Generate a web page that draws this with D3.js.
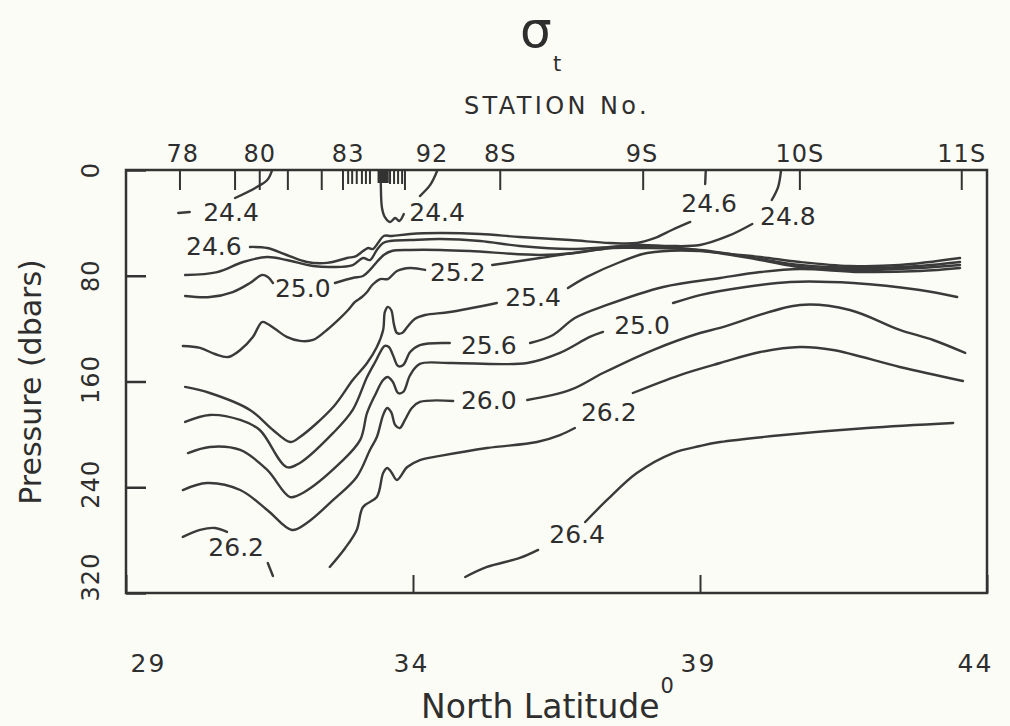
<!DOCTYPE html>
<html>
<head>
<meta charset="utf-8">
<script src="https://cdn.jsdelivr.net/npm/d3@7"></script>
<style>
  html, body { margin: 0; padding: 0; background: #fcfcf6; }
  svg { display: block; }
  text { font-family: "DejaVu Sans", "Liberation Sans", sans-serif; fill: #2e2e2e; }
</style>
</head>
<body>
<svg id="chart" width="1010" height="726"></svg>
<script>
// ---- Axis values ----
const latTicks = [29, 34, 39, 44];
const pressureTicks = [0, 80, 160, 240, 320];

// ---- Station positions (latitude) along the section ----
const stationMajorLat = [29.94, 30.90, 31.33, 31.82, 32.41, 32.78, 33.86, 35.52, 38.01, 40.74, 43.56];
const stationMinorLat = [32.87, 32.94, 33.02, 33.11, 33.18, 33.25, 33.60, 33.67, 33.74, 33.81];
const stationClusterLat = [33.41, 33.44, 33.47, 33.50, 33.53, 33.55];
const stationNames = ["78", "80", "83", "92", "8S", "9S", "10S", "11S"];
const stationNameLat = [29.99, 31.33, 32.87, 34.33, 35.52, 37.99, 40.74, 43.56];

// ---- Isopycnals: [latitude, pressure (dbar)] per drawn segment ----
const sigma244 = [
  [[29.91, 32.5], [30.11, 31.8]],
  [[30.90, 21.2], [31.28, 12.9], [31.46, 7.6], [31.54, 0.8]],
  [[33.44, 0.8], [33.44, 12.1], [33.46, 28.7], [33.51, 35.6], [33.60, 39.3], [33.69, 36.3], [33.76, 38.6], [33.84, 33.3]],
  [[34.12, 19.7], [34.30, 11.3], [34.42, 0.8]]
];
const sigma246 = [
  [[31.16, 58.2], [31.46, 59.0], [31.80, 64.3], [32.15, 69.6], [32.50, 70.3], [32.85, 66.6], [33.01, 65.1], [33.13, 61.3], [33.22, 59.0], [33.30, 59.8], [33.39, 55.2], [33.49, 49.9], [33.63, 49.9], [33.95, 48.4], [34.47, 47.7], [35.17, 48.4], [35.86, 50.7], [36.74, 53.0], [37.43, 55.2], [37.90, 55.2], [38.22, 51.4], [38.51, 45.4], [38.83, 39.3]],
  [[39.09, 10.6], [39.10, 0.8]]
];
const sigma248 = [
  [[30.03, 79.4], [30.59, 77.2], [31.04, 69.6], [31.46, 65.8], [31.80, 68.1], [32.26, 72.6], [32.61, 73.4], [32.95, 71.9], [33.13, 66.6], [33.25, 68.1], [33.37, 60.5], [33.48, 55.2], [33.60, 53.7], [33.95, 53.0], [34.47, 52.2], [35.17, 53.7], [35.86, 57.5], [36.74, 59.8], [37.43, 58.2], [37.95, 56.7], [38.48, 57.5], [39.00, 56.7], [39.49, 49.9], [39.91, 40.8]],
  [[40.25, 22.7], [40.36, 12.9], [40.41, 0.8]]
];
const sigma250 = [
  [[30.03, 95.3], [30.46, 96.1], [30.86, 92.3], [31.16, 85.5], [31.37, 79.4], [31.47, 80.9], [31.56, 85.5]],
  [[32.64, 85.5], [32.95, 81.7], [33.13, 80.2], [33.25, 75.6], [33.37, 69.6], [33.49, 64.3], [33.63, 61.3], [33.95, 60.5], [34.47, 60.5], [34.99, 61.3], [36.21, 64.3], [36.82, 62.8], [37.43, 59.0], [37.95, 57.5], [38.65, 59.0], [39.35, 62.8], [40.05, 65.8], [40.74, 69.6], [41.61, 72.6], [42.48, 71.9], [43.53, 66.6]]
];
const sigma252 = [
  [[29.99, 133.1], [30.29, 134.6], [30.55, 139.2], [30.78, 141.5], [30.99, 136.2], [31.21, 126.3], [31.37, 115.0], [31.47, 116.5], [31.60, 120.3], [31.80, 126.3], [32.03, 129.3], [32.26, 128.6], [32.50, 121.0], [32.73, 112.0], [32.87, 105.9], [32.99, 99.8], [33.11, 96.1], [33.20, 92.3], [33.29, 87.0], [33.43, 82.5], [33.56, 82.5], [33.72, 76.4], [33.95, 74.1], [34.21, 75.6]],
  [[35.38, 71.9], [36.21, 66.6], [36.91, 62.0], [37.48, 59.0], [37.95, 59.0], [39.00, 60.5], [40.05, 67.3], [40.74, 71.9], [41.79, 74.1], [42.83, 72.6], [43.53, 69.6]]
];
const sigma254 = [
  [[30.03, 164.1], [30.46, 168.7], [31.16, 181.5], [31.56, 196.7], [31.86, 205.8], [32.03, 202.0], [32.61, 179.3], [32.95, 158.9], [33.20, 146.0], [33.37, 133.9], [33.48, 121.0], [33.51, 107.4], [33.56, 103.6], [33.62, 105.9], [33.67, 117.2], [33.72, 123.3], [33.81, 123.3], [33.90, 118.8], [34.03, 112.7], [34.21, 109.7], [34.64, 107.4], [35.46, 100.6]],
  [[36.70, 89.3], [37.03, 80.9], [37.61, 69.6], [38.08, 62.8], [39.00, 61.3], [40.05, 68.1], [40.74, 73.4], [41.79, 75.6], [42.83, 74.1], [43.53, 71.9]]
];
const sigma256 = [
  [[30.03, 190.6], [30.46, 185.3], [30.99, 189.1], [31.33, 196.7], [31.80, 224.7], [32.03, 221.6], [32.61, 198.9], [32.95, 181.5], [33.20, 156.6], [33.36, 143.7], [33.43, 137.7], [33.51, 133.1], [33.58, 133.9], [33.65, 139.9], [33.74, 148.3], [33.83, 147.5], [33.95, 137.7], [34.12, 132.4], [34.64, 130.9]],
  [[36.04, 130.9], [36.44, 124.8], [36.82, 112.0], [37.38, 102.1], [38.36, 88.5], [39.35, 81.7], [40.05, 77.2], [40.74, 74.9], [41.79, 77.2], [42.83, 76.4], [43.53, 74.1]]
];
const sigma258 = [
  [[30.08, 214.1], [30.46, 209.5], [30.99, 211.8], [31.46, 226.9], [31.86, 247.4], [32.08, 244.3], [32.73, 221.6], [33.08, 204.2], [33.20, 183.8], [33.34, 170.2], [33.48, 158.9], [33.56, 156.6], [33.65, 160.4], [33.74, 168.7], [33.83, 167.9], [33.95, 155.1], [34.12, 146.7], [34.64, 146.0], [35.99, 146.0], [36.56, 138.4], [37.08, 126.3], [37.31, 122.5]],
  [[38.53, 100.6], [39.00, 94.6], [39.35, 91.5], [40.57, 84.7], [41.67, 85.5], [42.83, 90.8], [43.48, 96.1]]
];
const sigma260 = [
  [[29.99, 242.1], [30.41, 236.8], [30.99, 242.1], [31.46, 257.2], [31.89, 272.3], [32.15, 267.0], [32.61, 249.6], [33.02, 232.2], [33.25, 211.8], [33.37, 202.0], [33.48, 185.3], [33.55, 180.0], [33.62, 183.1], [33.69, 192.9], [33.77, 195.2], [33.86, 189.1], [33.98, 180.0], [34.12, 175.5], [34.70, 174.7]],
  [[35.99, 174.0], [36.74, 166.4], [37.31, 153.6], [38.18, 136.2], [39.00, 123.3], [39.35, 119.5], [40.74, 102.1], [41.61, 105.9], [42.48, 121.0], [43.06, 128.6], [43.62, 138.4]]
];
const sigma262 = [
  [[29.99, 277.6], [30.29, 272.3], [30.55, 270.8], [30.76, 273.8]],
  [[31.47, 297.3], [31.56, 307.1]],
  [[32.55, 300.3], [32.82, 285.9], [33.02, 272.3], [33.13, 254.9], [33.37, 247.4], [33.48, 229.2], [33.55, 225.4], [33.62, 228.4], [33.72, 234.5], [33.90, 224.7], [34.12, 219.4], [34.47, 216.3], [35.29, 210.3], [36.16, 205.8], [36.56, 200.5], [36.82, 195.2]],
  [[37.83, 168.7], [38.65, 155.1], [39.35, 146.0], [40.05, 137.7], [40.74, 133.9], [41.32, 136.2], [42.48, 149.0], [43.58, 159.6]]
];
const sigma264 = [
  [[34.91, 307.9], [35.29, 300.3], [35.86, 293.5], [36.18, 287.4]],
  [[37.00, 266.3], [37.38, 249.6], [37.90, 229.2], [38.53, 214.1], [39.00, 208.8], [39.35, 205.8], [40.45, 200.5], [41.91, 195.2], [43.41, 191.4]]
];

// ---- Contour labels ----
const labelText = ["24.4", "24.6", "25.0", "24.4", "25.2", "25.4", "25.6", "26.0", "24.6", "24.8", "25.0", "26.2", "26.4", "26.2"];
const labelLat  = [30.83, 30.53, 32.08, 34.42, 34.78, 36.09, 35.32, 35.32, 39.16, 40.53, 37.99, 37.41, 36.86, 30.92];
const labelP    = [32.5, 57.5, 90.0, 31.8, 77.9, 96.1, 132.4, 174.0, 25.0, 34.8, 118.0, 183.8, 276.1, 285.9];

// ---- Layout ----
const ink = "#333";
const svg = d3.select("#chart");
svg.append("rect").attr("width", 1010).attr("height", 726).attr("fill", "#fcfcf6");

const x = d3.scaleLinear().domain([29, 44]).range([126, 987]);
const y = d3.scaleLinear().domain([0, 320]).range([170, 593]);

// Isopycnal lines
const line = d3.line()
  .x(d => x(d[0]))
  .y(d => y(d[1]))
  .curve(d3.curveCatmullRom.alpha(0.5));

const isopycnals = [sigma244, sigma246, sigma248, sigma250, sigma252, sigma254,
                    sigma256, sigma258, sigma260, sigma262, sigma264];
const gLines = svg.append("g")
  .attr("fill", "none")
  .attr("stroke", "#3a3a3a")
  .attr("stroke-width", 2.4)
  .attr("stroke-linecap", "round")
  .attr("stroke-linejoin", "round");
isopycnals.forEach(segments => {
  gLines.selectAll(null)
    .data(segments)
    .enter().append("path")
    .attr("d", line);
});

// Contour labels
svg.append("g").selectAll("text")
  .data(labelText)
  .enter().append("text")
  .attr("x", (d, i) => x(labelLat[i]))
  .attr("y", (d, i) => y(labelP[i]))
  .attr("text-anchor", "middle")
  .attr("dominant-baseline", "central")
  .attr("font-size", 25)
  .text(d => d);

// Frame
svg.append("rect")
  .attr("x", x(29)).attr("y", y(0))
  .attr("width", x(44) - x(29)).attr("height", y(320) - y(0))
  .attr("fill", "none").attr("stroke", ink).attr("stroke-width", 2.5);

// Bottom axis (ticks point inward)
const gB = svg.append("g")
  .attr("transform", `translate(0,${y(320)})`)
  .call(d3.axisBottom(x).tickValues(latTicks).tickSizeInner(-18).tickSizeOuter(0).tickPadding(61));
gB.select(".domain").remove();
gB.selectAll(".tick line").attr("stroke", ink).attr("stroke-width", 2);
const bottomNudge = { 29: 22, 34: -2, 39: -2, 44: -12 };
gB.selectAll(".tick text")
  .attr("font-size", 25)
  .attr("font-family", "DejaVu Sans, sans-serif")
  .attr("fill", "#2e2e2e")
  .attr("letter-spacing", 2)
  .attr("dx", d => bottomNudge[d]);

// Left axis (ticks point inward, rotated labels)
const gL = svg.append("g")
  .attr("transform", `translate(${x(29)},0)`)
  .call(d3.axisLeft(y).tickValues(pressureTicks).tickSizeInner(-20).tickSizeOuter(0).tickFormat(""));
gL.select(".domain").remove();
gL.selectAll(".tick line").attr("stroke", ink).attr("stroke-width", 2.5);
const leftNudge = { 0: 0, 80: 0, 160: -2, 240: -3, 320: -16 };
svg.append("g").selectAll("text")
  .data(pressureTicks)
  .enter().append("text")
  .attr("transform", d => `translate(99,${y(d) + leftNudge[d]}) rotate(-90)`)
  .attr("text-anchor", "middle")
  .attr("font-size", 24)
  .attr("letter-spacing", 1)
  .text(d => d);

// Station ticks along the top edge
const gT = svg.append("g").attr("stroke", ink);
gT.selectAll(".major")
  .data(stationMajorLat)
  .enter().append("line")
  .attr("x1", d => x(d)).attr("x2", d => x(d))
  .attr("y1", y(0)).attr("y2", y(0) + 20)
  .attr("stroke-width", 2);
gT.selectAll(".minor")
  .data(stationMinorLat)
  .enter().append("line")
  .attr("x1", d => x(d)).attr("x2", d => x(d))
  .attr("y1", y(0)).attr("y2", y(0) + 14)
  .attr("stroke-width", 2);
gT.selectAll(".cluster")
  .data(stationClusterLat)
  .enter().append("line")
  .attr("x1", d => x(d)).attr("x2", d => x(d))
  .attr("y1", y(0)).attr("y2", y(0) + 13)
  .attr("stroke-width", 3.2);

svg.append("g").selectAll("text")
  .data(stationNames)
  .enter().append("text")
  .attr("x", (d, i) => x(stationNameLat[i]))
  .attr("y", 162)
  .attr("text-anchor", "middle")
  .attr("font-size", 24)
  .attr("letter-spacing", 1)
  .text(d => d);

// Titles
svg.append("text")
  .attr("x", 557).attr("y", 114)
  .attr("text-anchor", "middle")
  .attr("font-size", 24)
  .attr("letter-spacing", 3.4)
  .text("STATION No.");

// sigma-t symbol: the subscript sits just clear of the sigma glyph
svg.append("text").attr("x", 520).attr("y", 47).attr("font-size", 50).text("σ");
svg.append("text").attr("x", 553).attr("y", 71).attr("font-size", 21).text("t");

const xl = svg.append("text")
  .attr("x", 421).attr("y", 718)
  .attr("font-size", 33);
xl.append("tspan").text("North Latitude");
xl.append("tspan").attr("font-size", 21).attr("dy", -25).attr("dx", 1).text("0");

svg.append("text")
  .attr("transform", "translate(41,382) rotate(-90)")
  .attr("text-anchor", "middle")
  .attr("font-size", 30)
  .text("Pressure (dbars)");
</script>
</body>
</html>
